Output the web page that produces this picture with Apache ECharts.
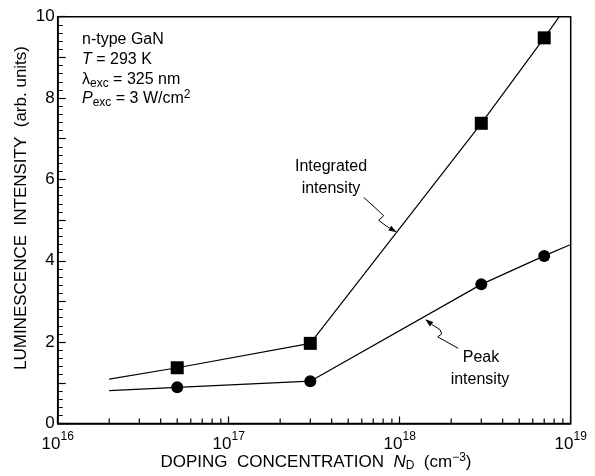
<!DOCTYPE html>
<html><head><meta charset="utf-8">
<script src="https://cdn.jsdelivr.net/npm/echarts@6/dist/echarts.min.js"></script>
<style>html,body{margin:0;padding:0;background:#fff}#c{width:595px;height:476px}</style>
</head><body><div id="c"></div>
<script>
// ---- data ----
const concentrations = [5e16, 3e17, 3e18, 7e18];
const integratedIntensity = [1.37, 1.97, 7.38, 9.48];
const peakIntensity = [0.89, 1.04, 3.42, 4.12];
const integratedFitX = [2e16, 5e16, 3e17, 3e18, 7e18, 8.57e18];
const integratedFitY = [1.09, 1.37, 1.97, 7.38, 9.48, 10];
const peakFitX = [2e16, 5e16, 3e17, 3e18, 7e18, 1e19];
const peakFitY = [0.81, 0.89, 1.04, 3.42, 4.12, 4.40];
const minorTickValues = [2e16,3e16,4e16,5e16,6e16,7e16,8e16,9e16,
  2e17,3e17,4e17,5e17,6e17,7e17,8e17,9e17,
  2e18,3e18,4e18,5e18,6e18,7e18,8e18,9e18];
const yTickLabels = [0, 2, 4, 6, 8, 10];

const FONT = "'Liberation Sans', Arial, Helvetica, sans-serif";
const pair = (xs, ys) => xs.map((x, i) => [x, ys[i]]);

const chart = echarts.init(document.getElementById('c'), null, {renderer: 'canvas'});
const option = {
  animation: false,
  backgroundColor: '#fff',
  textStyle: {fontFamily: FONT, color: '#000'},
  grid: {left: 57.7, right: 24.3, top: 16.7, bottom: 52.5, show: true,
    borderColor: '#000', borderWidth: 1.5, backgroundColor: 'transparent'},
  xAxis: {
    type: 'log', logBase: 10, min: 1e16, max: 1e19,
    axisLine: {lineStyle: {color: '#000', width: 1.5}},
    axisTick: {inside: true, length: 7, lineStyle: {color: '#000', width: 1.2}},
    splitLine: {show: false},
    axisLabel: {
      margin: 7, color: '#000',
      formatter: v => '{b|10}{s|' + Math.round(Math.log10(v)) + '}',
      rich: {
        b: {fontSize: 17, fontFamily: FONT, color: '#000', lineHeight: 22, verticalAlign: 'bottom'},
        s: {fontSize: 12, fontFamily: FONT, color: '#000', lineHeight: 12, verticalAlign: 'top'}
      }
    }
  },
  yAxis: {
    type: 'value', min: 0, max: 10, interval: 1,
    axisLine: {show: true, lineStyle: {color: '#000', width: 1.5}},
    axisTick: {inside: true, length: 8, lineStyle: {color: '#000', width: 1.2}},
    minorTick: {show: true, splitNumber: 5, length: 5, lineStyle: {color: '#000', width: 1}},
    splitLine: {show: false},
    axisLabel: {
      margin: 3, color: '#000', fontSize: 17, fontFamily: FONT,
      formatter: v => yTickLabels.indexOf(v) >= 0 ? String(v) : ''
    }
  },
  series: [
    {type: 'line', data: pair(integratedFitX, integratedFitY), symbol: 'none',
      lineStyle: {color: '#000', width: 1.2}, clip: true, z: 3},
    {type: 'line', data: pair(peakFitX, peakFitY), symbol: 'none',
      lineStyle: {color: '#000', width: 1.2}, clip: true, z: 3},
    {type: 'scatter', data: pair(concentrations, integratedIntensity), symbol: 'rect',
      symbolSize: 13, itemStyle: {color: '#000', opacity: 1}, z: 4},
    {type: 'scatter', data: pair(concentrations, peakIntensity), symbol: 'circle',
      symbolSize: 12, itemStyle: {color: '#000', opacity: 1}, z: 4},
    {type: 'custom', coordinateSystem: 'cartesian2d', silent: true, clip: false, z: 5,
      data: minorTickValues.map(v => [v, 0]),
      renderItem: (params, api) => {
        const p = api.coord([api.value(0), 0]);
        return {type: 'line', shape: {x1: p[0], y1: p[1], x2: p[0], y2: p[1] - 5},
          style: {stroke: '#000', lineWidth: 1.2}};
      }}
  ]
};
chart.setOption(option);

// ---- annotations ----
const rich = {
  n: {fontSize: 16, fontFamily: FONT, color: '#000', lineHeight: 20, verticalAlign: 'middle'},
  i: {fontSize: 16, fontFamily: FONT, fontStyle: 'italic', color: '#000', lineHeight: 20, verticalAlign: 'middle'},
  sub: {fontSize: 12, fontFamily: FONT, color: '#000', lineHeight: 12, verticalAlign: 'bottom'},
  sup: {fontSize: 12, fontFamily: FONT, color: '#000', lineHeight: 12, verticalAlign: 'top'}
};
function txt(x, y, text, align) {
  return {type: 'text', x: x, y: y, z: 10,
    style: {text: text, rich: rich, align: align || 'left', verticalAlign: 'middle',
      fontFamily: FONT, fontSize: 16, fill: '#000'}};
}
function arrow(headData, pts) {
  const h = chart.convertToPixel({gridIndex: 0}, headData);
  const abs = pts.map(p => [h[0] + p[0], h[1] + p[1]]);
  const pts2 = abs.concat([h]);
  const a = pts2[pts2.length - 2];
  const dx = h[0] - a[0], dy = h[1] - a[1];
  const L = Math.hypot(dx, dy), ux = dx / L, uy = dy / L;
  const bx = h[0] - ux * 8, by = h[1] - uy * 8;
  return [
    {type: 'polyline', z: 10, shape: {points: pts2.slice(0, -1).concat([[bx, by]])},
      style: {stroke: '#000', lineWidth: 1, fill: null}},
    {type: 'polygon', z: 10, shape: {points: [h, [bx - uy * 2.8, by + ux * 2.8], [bx + uy * 2.8, by - ux * 2.8]]},
      style: {fill: '#000'}}
  ];
}
const elements = [
  txt(82, 40, '{n|n-type GaN}'),
  txt(82, 60, '{i|T}{n| = 293 K}'),
  txt(82, 80, '{n|λ}{sub|exc}{n| = 325 nm}'),
  txt(82, 99, '{i|P}{sub|exc}{n| = 3 W/cm}{sup|2}'),
  txt(331, 167, '{n|Integrated}', 'center'),
  txt(331, 189, '{n|intensity}', 'center'),
  txt(481, 358, '{n|Peak}', 'center'),
  txt(480, 380, '{n|intensity}', 'center'),
  {type: 'text', x: 316, y: 462, z: 10, style: {
    text: '{n|DOPING  CONCENTRATION  }{i|N}{sub|D}{n|  (cm}{sup|−3}{n|)}',
    align: 'center', verticalAlign: 'middle', rich: {
      n: {fontSize: 17, fontFamily: FONT, color: '#000', lineHeight: 20, verticalAlign: 'middle'},
      i: {fontSize: 17, fontFamily: FONT, fontStyle: 'italic', color: '#000', lineHeight: 20, verticalAlign: 'middle'},
      sub: {fontSize: 12, fontFamily: FONT, color: '#000', lineHeight: 12, verticalAlign: 'bottom'},
      sup: {fontSize: 12, fontFamily: FONT, color: '#000', lineHeight: 12, verticalAlign: 'top'}
    }}},
  {type: 'text', x: 21, y: 208, rotation: Math.PI / 2, z: 10, style: {
    text: 'LUMINESCENCE  INTENSITY  (arb. units)', align: 'center', verticalAlign: 'middle',
    fontSize: 17, fontFamily: FONT, fill: '#000'}}
];
const arrows = [].concat(
  arrow([9.6e17, 4.7], [[-33, -35], [-16.5, -20], [-13, -16.5], [-18, -12], [-10, -6]]),
  arrow([1.41e18, 2.56], [[33, 29], [12.5, 17.5], [16.5, 14.5], [15, 10.5], [8, 6]])
);
chart.setOption({graphic: {elements: elements.concat(arrows)}});
</script></body></html>
